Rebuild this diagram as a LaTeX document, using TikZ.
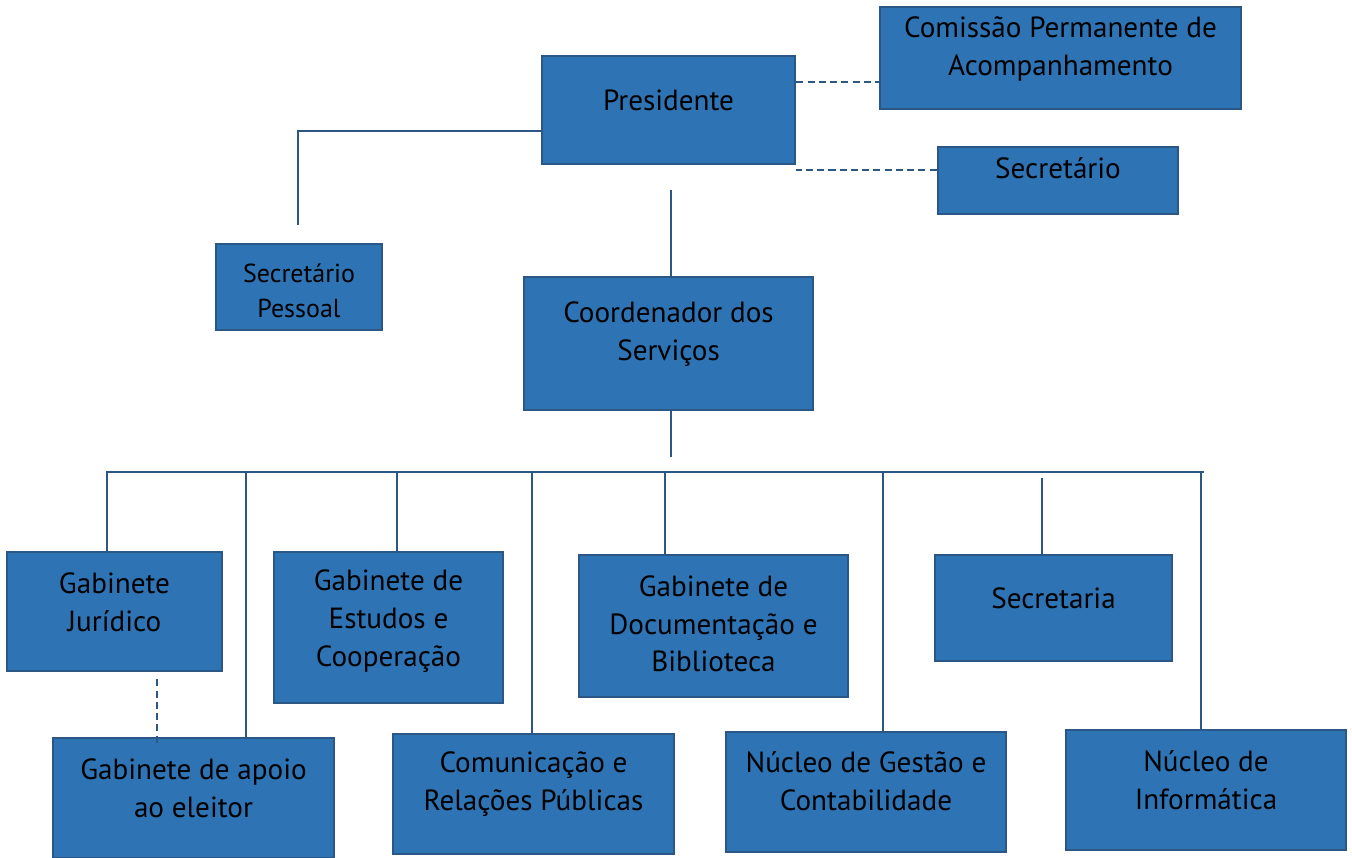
\documentclass[tikz,border=0pt]{standalone}
\usepackage{fontspec}
\setmainfont{PT Sans}
\definecolor{unitfill}{HTML}{2E74B5}
\definecolor{unitedge}{HTML}{2A5786}
\definecolor{linkcol}{HTML}{2C5782}
\tikzset{
    unit/.style={draw=unitedge, fill=unitfill, line width=1.5pt, inner sep=0pt},
    txt/.style={align=center, text=black, font=\fontsize{16.6}{21.5}\selectfont},
    small/.style={align=center, text=black, font=\fontsize{14.8}{19.8}\selectfont},
    link/.style={draw=linkcol, line width=1.4pt},
    dotlink/.style={draw=linkcol, line width=1.4pt, dash pattern=on 4pt off 2.4pt}
}
\begin{document}
\begin{tikzpicture}[x=0.02cm, y=-0.02cm]
        \useasboundingbox (0,0) rectangle (1352,858);
        % top level
        \node[unit, minimum width=5.06cm, minimum height=2.16cm] (pres) at (668.5,110) {};
        \node[txt] (presT) at (668.5,100) {Presidente};
        \node[unit, minimum width=7.22cm, minimum height=2.04cm] (cpa) at (1060.5,58) {};
        \node[txt] (cpaT) at (1060.5,49) {Comissão Permanente de\\Acompanhamento};
        \node[unit, minimum width=4.80cm, minimum height=1.34cm] (secr) at (1058,180.5) {};
        \node[txt] (secrT) at (1058,168) {Secretário};
        \node[unit, minimum width=3.32cm, minimum height=1.72cm] (sp) at (299,287) {};
        \node[small] (spT) at (299,290.5) {Secretário\\Pessoal};
        \node[unit, minimum width=5.78cm, minimum height=2.66cm] (coord) at (668.5,343.5) {};
        \node[txt] (coordT) at (668.5,334) {Coordenador dos\\Serviços};
        % services, upper row
        \node[unit, minimum width=4.30cm, minimum height=2.38cm] (gj) at (114.5,611.5) {};
        \node[txt] (gjT) at (114.5,602) {Gabinete\\Jurídico};
        \node[unit, minimum width=4.58cm, minimum height=3.02cm] (gec) at (388.5,627.5) {};
        \node[txt] (gecT) at (388.5,621) {Gabinete de\\Estudos e\\Cooperação};
        \node[unit, minimum width=5.38cm, minimum height=2.84cm] (gdb) at (713.5,626) {};
        \node[txt] (gdbT) at (713.5,624) {Gabinete de\\Documentação e\\Biblioteca};
        \node[unit, minimum width=4.74cm, minimum height=2.12cm] (sec) at (1053.5,608) {};
        \node[txt] (secT) at (1053.5,598) {Secretaria};
        % services, lower row
        \node[unit, minimum width=5.62cm, minimum height=2.40cm] (gae) at (193.5,798) {};
        \node[txt] (gaeT) at (193.5,788) {Gabinete de apoio\\ao eleitor};
        \node[unit, minimum width=5.62cm, minimum height=2.40cm] (crp) at (533.5,794) {};
        \node[txt] (crpT) at (533.5,784.5) {Comunicação e\\Relações Públicas};
        \node[unit, minimum width=5.60cm, minimum height=2.40cm] (ngc) at (866,792) {};
        \node[txt] (ngcT) at (866,781) {Núcleo de Gestão e\\Contabilidade};
        \node[unit, minimum width=5.60cm, minimum height=2.40cm] (ni) at (1206,790) {};
        \node[txt] (niT) at (1206,780) {Núcleo de\\Informática};
        % links
        \draw[link] ([yshift=-0.42cm]pres.west) -| ([xshift=-0.02cm,yshift=0.36cm]sp.north);
        \draw[dotlink] ([yshift=0.56cm]pres.east) -- ([yshift=0.56cm]pres.east -| cpa.west);
        \draw[dotlink] ([yshift=0.21cm]secr.west) -- ([yshift=0.21cm]secr.west -| pres.east);
        \draw[link] ([xshift=0.05cm,yshift=-0.5cm]pres.south) -- ([xshift=0.05cm]coord.north);
        \draw[link] ([xshift=0.05cm]coord.south) -- ++(0,46);
        \coordinate (busL) at (106,472);
        \coordinate (busR) at (1204,472);
        \draw[link] (busL) -- (busR);
        \foreach \x/\b in {107/gj, 246/gae, 397/gec, 532/crp, 665/gdb, 883/ngc, 1201/ni}{
            \coordinate (top\b) at (\x,472);
            \draw[link] (top\b) -- (top\b |- \b.north);
        }
        \coordinate (topsec) at (1042,478);
        \draw[link] (topsec) -- (topsec |- sec.north);
        \draw[dotlink] ([xshift=0.85cm,yshift=-0.14cm]gj.south) -- ([xshift=0.85cm,yshift=-0.14cm]gj.south |- gae.north);
\end{tikzpicture}
\end{document}
